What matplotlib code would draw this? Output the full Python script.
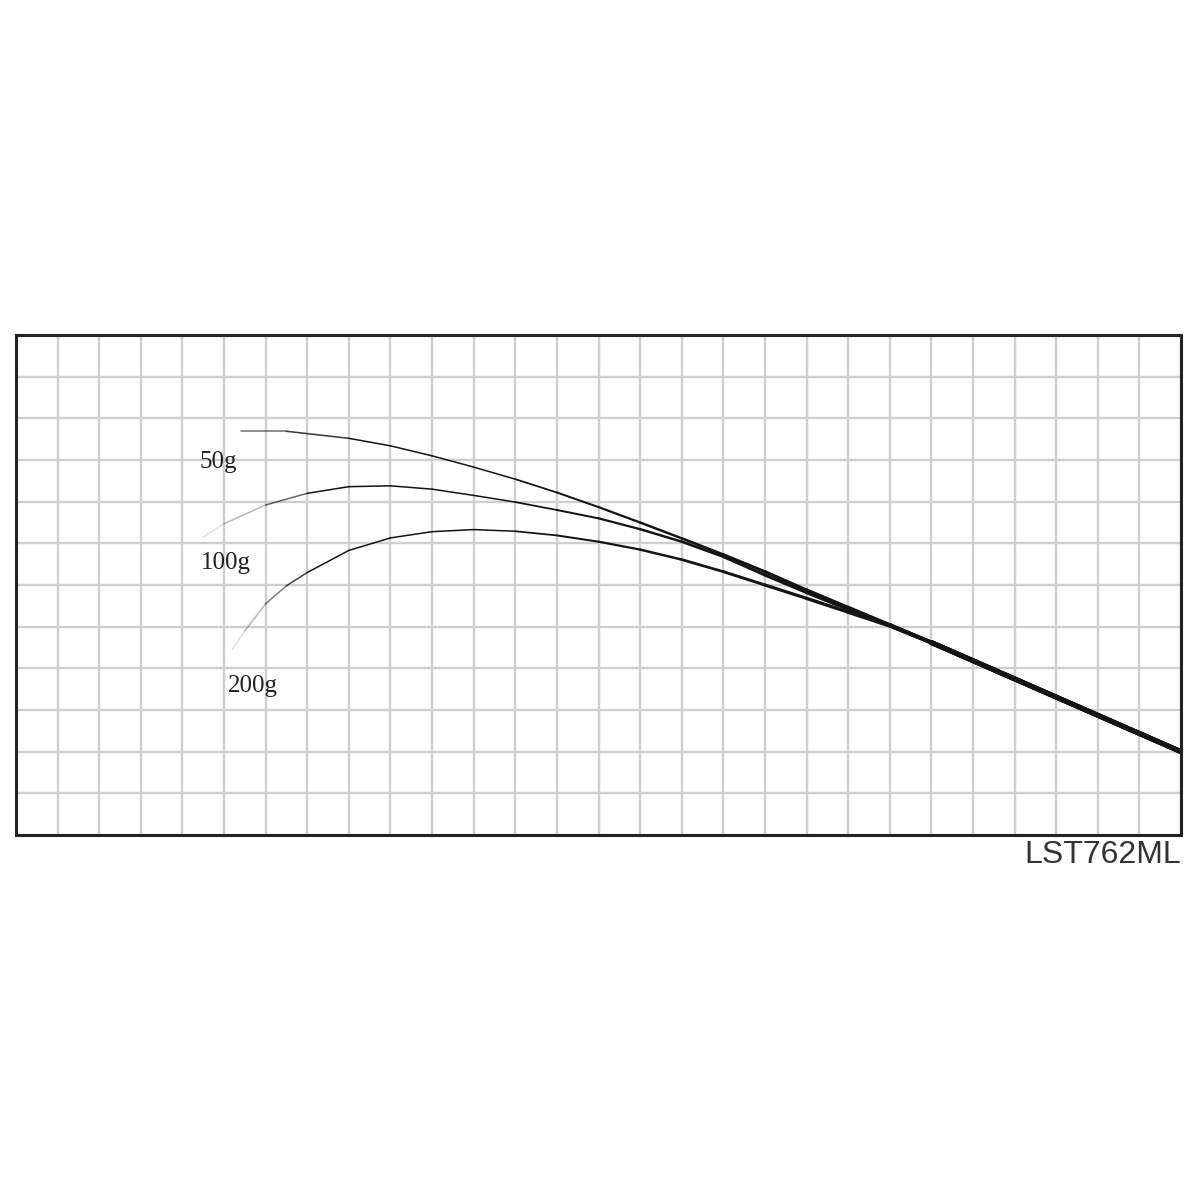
import numpy as np
import matplotlib
matplotlib.use("Agg")
import matplotlib.pyplot as plt
from matplotlib.collections import LineCollection

# Rod bend curves (grid units: x 0..28, y 0..12)
x_50 = [5.4, 6.5, 8.0, 9.0, 10.0, 11.0, 12.0, 13.0, 14.0, 15.0, 16.0, 17.0, 18.0, 19.0, 20.0, 21.0, 22.0, 28.0]
y_50 = [9.69, 9.69, 9.52, 9.34, 9.10, 8.83, 8.54, 8.22, 7.87, 7.50, 7.12, 6.73, 6.32, 5.88, 5.46, 5.04, 4.62, 2.0]

x_100 = [4.5, 5.0, 6.0, 7.0, 8.0, 9.0, 10.0, 11.0, 12.0, 13.0, 14.0, 15.0, 16.0, 17.0, 18.0, 19.0, 20.0, 21.0, 22.0, 28.0]
y_100 = [7.15, 7.47, 7.92, 8.20, 8.36, 8.38, 8.30, 8.15, 7.99, 7.80, 7.60, 7.34, 7.04, 6.68, 6.24, 5.82, 5.42, 5.04, 4.62, 2.0]

x_200 = [5.2, 5.5, 6.0, 6.5, 7.0, 8.0, 9.0, 10.0, 11.0, 12.0, 13.0, 14.0, 15.0, 16.0, 17.0, 18.0, 19.0, 20.0, 21.0, 22.0, 28.0]
y_200 = [4.45, 4.90, 5.55, 5.98, 6.30, 6.83, 7.13, 7.28, 7.33, 7.29, 7.19, 7.04, 6.85, 6.61, 6.32, 6.00, 5.68, 5.35, 5.02, 4.62, 2.0]

labels = ["50g", "100g", "200g"]
label_x = [4.42, 4.45, 5.1]
label_y = [8.95, 6.53, 3.57]
model_name = "LST762ML"

fig = plt.figure(figsize=(12, 12), dpi=100)
fig.patch.set_facecolor("white")
ax = fig.add_axes([16 / 1200, (1200 - 835) / 1200, 1165 / 1200, 500 / 1200])
ax.set_xlim(0, 28)
ax.set_ylim(0, 12)
ax.set_xticks(np.arange(0, 29, 1))
ax.set_yticks(np.arange(0, 13, 1))
ax.tick_params(length=0, labelbottom=False, labelleft=False)
ax.grid(True, color="#cfcfcf", linewidth=1.7)
ax.set_axisbelow(True)
for s in ax.spines.values():
    s.set_color("#222222")
    s.set_linewidth(2.2)

fades = {"50g": [0.6, 0.85], "100g": [0.12, 0.3, 0.65], "200g": [0.12, 0.3, 0.55, 0.8]}
for name, xs, ys in [("50g", x_50, y_50), ("100g", x_100, y_100), ("200g", x_200, y_200)]:
    pts = np.column_stack([xs, ys])
    segs = [pts[i:i + 2] for i in range(len(pts) - 1)]
    n = len(segs)
    alphas = np.ones(n)
    f = fades[name]
    alphas[:len(f)] = f
    widths = np.array([min(3.6, 1.1 + 0.17 * max(0.0, s[0][0] - 11.0)) for s in segs])
    widths[-1] = 3.6
    colors = [(0.08, 0.08, 0.08, a) for a in alphas]
    lc = LineCollection(segs, colors=colors, linewidths=widths, capstyle="round", joinstyle="round")
    ax.add_collection(lc)

for t, lx, ly in zip(labels, label_x, label_y):
    ax.text(lx, ly, t, fontsize=18, family="Liberation Serif", color="#222222",
            ha="left", va="center")

fig.text(1181 / 1200, 1 - 855 / 1200, model_name, fontsize=23, family="Liberation Sans",
         color="#333333", ha="right", va="center")

fig.savefig("out.png", dpi=100, facecolor="white")
